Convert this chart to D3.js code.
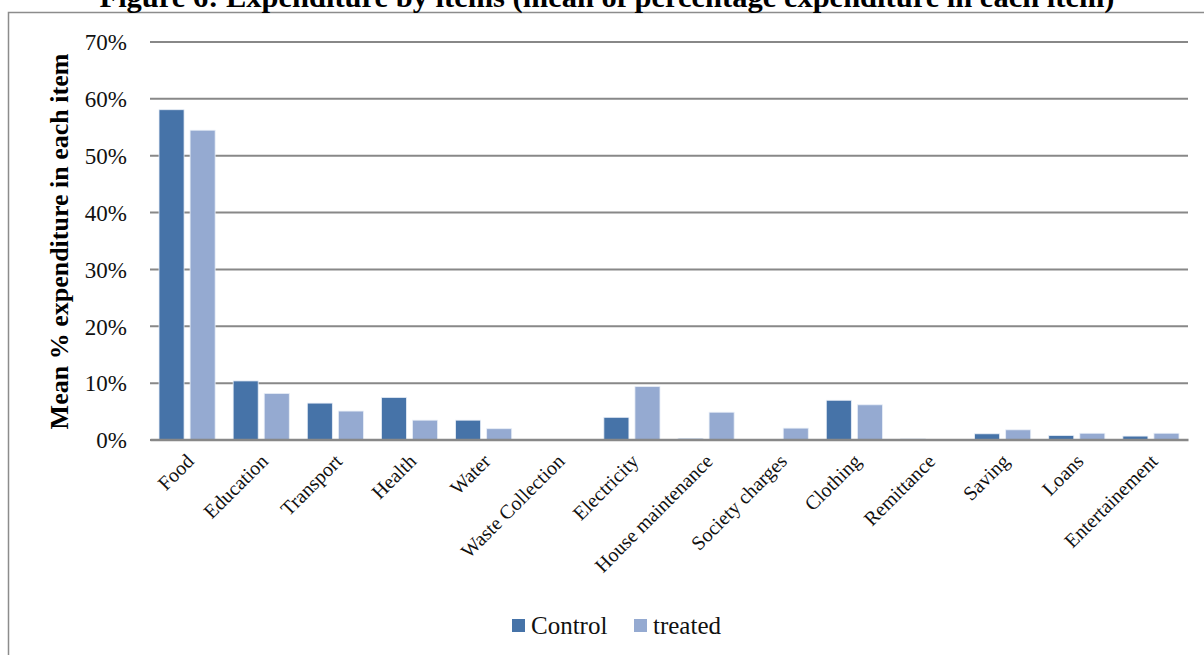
<!DOCTYPE html>
<html><head><meta charset="utf-8">
<script src="https://cdn.jsdelivr.net/npm/d3@7"></script>
<style>body{margin:0;background:#fff;} svg{display:block;}</style>
</head><body>
<svg id="chart" width="1204" height="655"></svg>
<script>
const categories = ["Food","Education","Transport","Health","Water","Waste Collection","Electricity","House maintenance","Society charges","Clothing","Remittance","Saving","Loans","Entertainement"];
const seriesNames = ["Control","treated"];
const controlValues = [58.0,10.3,6.4,7.4,3.4,0,3.9,0.2,0,6.9,0.1,1.0,0.7,0.6];
const treatedValues = [54.4,8.1,5.0,3.4,1.9,0,9.3,4.8,2.0,6.1,0,1.7,1.1,1.1];
const yTicks = [0,10,20,30,40,50,60,70];
const colors = ["#4673A8","#95AAD1"];

const svg = d3.select("#chart");
const font = "'Liberation Serif', 'Times New Roman', serif";
const L = 150, R = 1188, T = 41.5, B = 439.5;

// frame
svg.append("rect").attr("x",8.5).attr("y",12.5).attr("width",1220).attr("height",700)
  .attr("fill","none").attr("stroke","#8c8c8c").attr("stroke-width",1.5);

// title
svg.append("text").attr("x",607).attr("y",7).attr("text-anchor","middle")
  .attr("font-family",font).attr("font-weight","bold").attr("font-size",29)
  .attr("textLength",1015).attr("lengthAdjust","spacingAndGlyphs")
  .text("Figure 6: Expenditure by items (mean of percentage expenditure in each item)");

const x0 = d3.scaleBand().domain(categories).range([L,R]).paddingInner(0).paddingOuter(0);
const x1 = d3.scaleBand().domain(seriesNames).range([0,x0.bandwidth()]).paddingInner(0.194).paddingOuter(0.29);
const y = d3.scaleLinear().domain([0,70]).range([B,T]);

// gridlines
const yAxis = d3.axisLeft(y).tickValues(yTicks).tickFormat(d=>d+"%").tickSize(-(R-L)).tickPadding(23);
const gy = svg.append("g").attr("transform",`translate(${L},0)`).call(yAxis);
gy.select(".domain").remove();
gy.selectAll(".tick line").attr("stroke","#888").attr("stroke-width",2);
gy.selectAll(".tick text").attr("font-family",font).attr("font-size",23).attr("fill","#111").attr("dy","0.36em");

// bars
const data = categories.map((c,i)=>({c, vals:[controlValues[i],treatedValues[i]]}));
const groups = svg.append("g").selectAll("g").data(data).join("g")
  .attr("transform",d=>`translate(${x0(d.c)},0)`);
groups.selectAll("rect").data(d=>d.vals.map((v,j)=>({s:seriesNames[j],v,j}))).join("rect")
  .attr("x",d=>x1(d.s)).attr("width",x1.bandwidth())
  .attr("y",d=>y(d.v)).attr("height",d=>B-y(d.v))
  .attr("fill",d=>colors[d.j]).attr("stroke","#e8eef7").attr("stroke-width",0.8);

// x axis baseline
const xAxis = d3.axisBottom(x0).tickSize(0).tickPadding(0);
const gx = svg.append("g").attr("transform",`translate(0,${B})`).call(xAxis);
gx.select(".domain").attr("stroke","#888").attr("stroke-width",2.5);
gx.selectAll(".tick text")
  .attr("font-family",font).attr("font-size",20).attr("fill","#111")
  .attr("text-anchor","end").attr("dy",0).attr("y",0)
  .attr("transform","translate(8,23) rotate(-45)");

// y title
svg.append("text").attr("transform",`translate(68,${(T+B)/2+1}) rotate(-90)`)
  .attr("text-anchor","middle").attr("font-family",font).attr("font-weight","bold").attr("font-size",26)
  .text("Mean % expenditure in each item");

// legend
const leg = svg.append("g");
const legItems = [{n:"Control",x:512},{n:"treated",x:634}];
legItems.forEach((d,i)=>{
  leg.append("rect").attr("x",d.x).attr("y",619).attr("width",13).attr("height",13).attr("fill",colors[i]);
  leg.append("text").attr("x",d.x+19).attr("y",634).attr("font-family",font).attr("font-size",25).attr("fill","#111").text(d.n);
});
</script>
</body></html>
